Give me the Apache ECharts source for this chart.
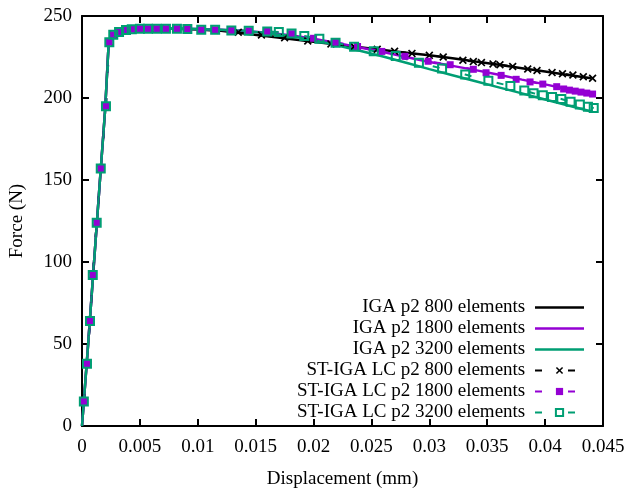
<!DOCTYPE html>
<html>
<head>
<meta charset="utf-8">
<script src="https://cdn.jsdelivr.net/npm/echarts@6/dist/echarts.min.js"></script>
<style>
html,body{margin:0;padding:0;background:#fff;}
#chart{width:630px;height:488px;}
</style>
</head>
<body>
<div id="chart"></div>
<script>
// ---- data ----
const xTicks = [0, 0.045, 0.005];   // min, max, interval
const yTicks = [0, 250, 50];

const seriesNames = [
  'IGA p2 800 elements',
  'IGA p2 1800 elements',
  'IGA p2 3200 elements',
  'ST-IGA LC p2 800 elements',
  'ST-IGA LC p2 1800 elements',
  'ST-IGA LC p2 3200 elements'
];

const igaDisp = [0, 0.0005, 0.001, 0.0015, 0.002, 0.0023, 0.0027, 0.0032, 0.0038, 0.0045, 0.006, 0.008, 0.010, 0.012, 0.014, 0.016, 0.018, 0.020, 0.022, 0.024, 0.026, 0.028, 0.030, 0.032, 0.034, 0.036, 0.038, 0.040, 0.042, 0.044];
const iga800Force  = [0, 47, 96, 145, 193, 233, 238.5, 240.3, 241.5, 242.1, 242.3, 242.2, 241.8, 241.0, 239.4, 237.7, 236.0, 234.3, 232.6, 231.0, 229.3, 227.6, 226.0, 224.2, 222.2, 220.3, 218.2, 216.1, 214.0, 212.0];
const iga1800Force = [0, 47, 96, 145, 193, 233, 238.7, 240.4, 241.6, 242.2, 242.4, 242.4, 242.1, 241.6, 240.9, 239.8, 238.3, 236.2, 233.6, 230.8, 228.0, 225.0, 222.0, 219.6, 217.0, 214.2, 211.2, 208.3, 205.3, 202.4];
const iga3200Force = [0, 47, 96, 145, 193, 233, 238.7, 240.4, 241.6, 242.2, 242.4, 242.4, 242.1, 241.6, 240.8, 239.6, 237.8, 235.3, 232.2, 228.8, 225.3, 221.5, 217.6, 213.9, 210.2, 206.5, 202.8, 199.1, 195.4, 191.8];

const st800Disp  = [0.00016, 0.00043, 0.00069, 0.00093, 0.00127, 0.00162, 0.00207, 0.00236, 0.0027, 0.0032, 0.0038, 0.0043, 0.005, 0.0057, 0.00645, 0.00725, 0.0082, 0.0091, 0.0103, 0.0115, 0.0135, 0.0155, 0.0175, 0.0195, 0.0215, 0.0235, 0.0255, 0.027, 0.0285, 0.030, 0.0312, 0.0329, 0.0338, 0.0345, 0.0355, 0.0361, 0.0372, 0.0385, 0.0393, 0.0406, 0.0415, 0.0424, 0.0433, 0.0441];
const st800Force = [15, 38, 64, 92, 124, 157, 195, 234, 238.6, 240.2, 241.5, 241.9, 242.3, 242.3, 242.3, 242.3, 242.3, 242.0, 241.6, 241.3, 240.1, 238.4, 236.7, 234.8, 233.0, 231.4, 229.7, 228.5, 227.2, 226.0, 225.0, 223.0, 222.2, 221.6, 220.8, 220.3, 219.2, 217.7, 216.8, 215.5, 214.8, 214.0, 213.0, 212.0];

const st1800Disp  = [0.00016, 0.00043, 0.00069, 0.00093, 0.00127, 0.00162, 0.00207, 0.00236, 0.0027, 0.0032, 0.0038, 0.0043, 0.005, 0.0057, 0.00645, 0.00725, 0.0082, 0.0091, 0.0103, 0.0115, 0.0129, 0.0144, 0.016, 0.0181, 0.020, 0.0219, 0.0238, 0.0259, 0.0279, 0.0299, 0.0318, 0.0338, 0.0349, 0.0362, 0.0375, 0.0387, 0.0398, 0.041, 0.0416, 0.0421, 0.0426, 0.0431, 0.0436, 0.0441];
const st1800Force = [15, 38, 64, 92, 124, 157, 195, 234, 238.6, 240.2, 241.5, 241.9, 242.3, 242.3, 242.3, 242.3, 242.3, 242.0, 241.6, 241.6, 241.2, 241.0, 240.6, 239.2, 236.4, 234.0, 231.4, 228.4, 225.4, 222.4, 220.3, 217.5, 215.4, 213.8, 211.4, 209.8, 208.5, 206.9, 205.5, 204.8, 204.2, 203.6, 203.0, 202.4];

const st3200Disp  = [0.00016, 0.00043, 0.00069, 0.00093, 0.00127, 0.00162, 0.00207, 0.00236, 0.0027, 0.0032, 0.0038, 0.0043, 0.005, 0.0057, 0.00645, 0.00725, 0.0082, 0.0091, 0.0103, 0.0115, 0.0129, 0.0144, 0.016, 0.017, 0.0181, 0.0192, 0.0205, 0.0219, 0.0235, 0.0252, 0.0271, 0.0291, 0.0311, 0.0331, 0.0351, 0.037, 0.0382, 0.039, 0.0398, 0.0406, 0.0414, 0.0422, 0.043, 0.0437, 0.0442];
const st3200Force = [15, 38, 64, 92, 124, 157, 195, 234, 238.6, 240.2, 241.5, 241.9, 242.3, 242.3, 242.3, 242.3, 242.3, 242.0, 241.6, 241.6, 241.2, 241.0, 240.6, 240.2, 239.4, 237.8, 236.2, 233.7, 231.3, 228.5, 225.6, 221.5, 218.0, 214.3, 210.5, 207.3, 204.5, 202.9, 201.7, 200.6, 199.4, 197.7, 196.0, 194.6, 193.9];

// ---- styles ----
const BLACK = '#000000', PURPLE = '#9400d3', GREEN = '#009e73';
const FONT = 'Liberation Serif';
const FS = 19;
const zip = (xs, ys) => xs.map((x, i) => [x, ys[i]]);
const crossPath = 'path://M0,1.5L1.5,0L5,3.5L8.5,0L10,1.5L6.5,5L10,8.5L8.5,10L5,6.5L1.5,10L0,8.5L3.5,5Z';
const lineIcon = 'path://M0,0M0,3.25L49,3.25L49,5.75L0,5.75ZM49,9';

const chart = echarts.init(document.getElementById('chart'), null, {renderer: 'canvas'});

function solid(name, xs, ys, color) {
  return {
    name, type: 'line', data: zip(xs, ys), symbol: 'none', smooth: false,
    lineStyle: {color, width: 2.5}, itemStyle: {color},
    animation: false, silent: true
  };
}
function dashed(name, xs, ys, color, symbol, size, itemStyle) {
  return {
    name, type: 'line', data: zip(xs, ys), symbol, symbolSize: size, showAllSymbol: true,
    lineStyle: {color, width: 2, type: [7, 26]}, itemStyle,
    animation: false, silent: true
  };
}

const axisCommon = {
  axisLine: {show: true, onZero: false, lineStyle: {color: BLACK, width: 2}},
  axisTick: {show: true, inside: true, length: 7, lineStyle: {color: BLACK, width: 2}},
  splitLine: {show: false}
};

chart.setOption({
  backgroundColor: '#ffffff',
  animation: false,
  textStyle: {fontFamily: FONT},
  grid: {left: 82, right: 27, top: 16, bottom: 62, containLabel: false, outerBoundsMode: 'none'},
  xAxis: [
    Object.assign({
      type: 'value', min: xTicks[0], max: xTicks[1], interval: xTicks[2], position: 'bottom',
      name: 'Displacement (mm)', nameLocation: 'middle', nameGap: 44,
      nameTextStyle: {fontFamily: FONT, fontSize: FS, color: BLACK},
      axisLabel: {fontFamily: FONT, fontSize: FS, color: BLACK, margin: 12}
    }, axisCommon),
    Object.assign({
      type: 'value', min: xTicks[0], max: xTicks[1], interval: xTicks[2], position: 'top',
      axisLabel: {show: false}
    }, axisCommon)
  ],
  yAxis: [
    Object.assign({
      type: 'value', min: yTicks[0], max: yTicks[1], interval: yTicks[2], position: 'left',
      name: 'Force (N)', nameLocation: 'middle', nameGap: 55,
      nameTextStyle: {fontFamily: FONT, fontSize: FS, color: BLACK},
      axisLabel: {fontFamily: FONT, fontSize: FS, color: BLACK, margin: 10}
    }, axisCommon),
    Object.assign({
      type: 'value', min: yTicks[0], max: yTicks[1], interval: yTicks[2], position: 'right',
      axisLabel: {show: false}
    }, axisCommon)
  ],
  legend: {
    orient: 'vertical', right: 45, top: 298, align: 'right', padding: 0,
    itemWidth: 49, itemHeight: 9, itemGap: 2,
    selectedMode: false,
    formatter: n => n + ' ',
    textStyle: {fontFamily: FONT, fontSize: FS, color: BLACK, lineHeight: 19},
    data: [
      {name: seriesNames[0], icon: lineIcon},
      {name: seriesNames[1], icon: lineIcon},
      {name: seriesNames[2], icon: lineIcon},
      seriesNames[3], seriesNames[4], seriesNames[5]
    ]
  },
  series: [
    solid(seriesNames[0], igaDisp, iga800Force, BLACK),
    solid(seriesNames[1], igaDisp, iga1800Force, PURPLE),
    solid(seriesNames[2], igaDisp, iga3200Force, GREEN),
    dashed(seriesNames[3], st800Disp, st800Force, BLACK, crossPath, 8, {color: BLACK}),
    dashed(seriesNames[4], st1800Disp, st1800Force, PURPLE, 'rect', 7, {color: PURPLE}),
    dashed(seriesNames[5], st3200Disp, st3200Force, GREEN, 'rect', 8, {color: 'rgba(0,0,0,0)', borderColor: GREEN, borderWidth: 2})
  ]
});
</script>
</body>
</html>
